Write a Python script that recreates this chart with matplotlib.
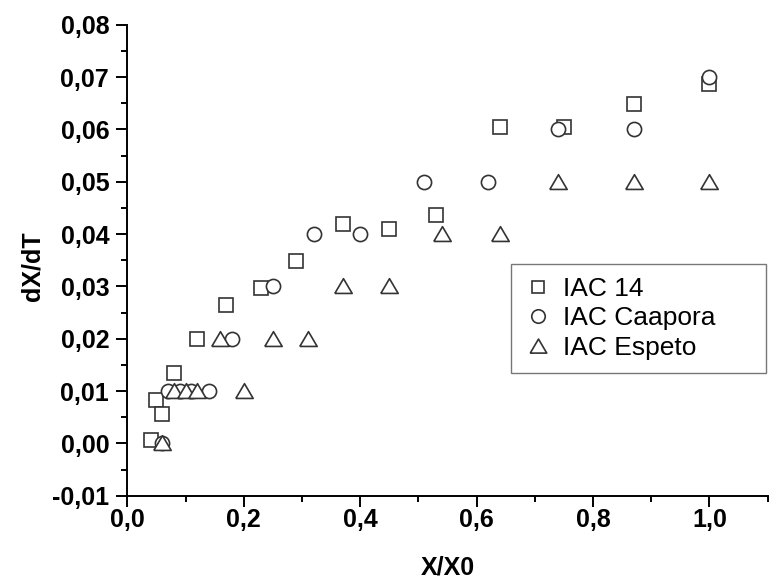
import matplotlib
matplotlib.use("Agg")
import matplotlib.pyplot as plt
from matplotlib.ticker import MultipleLocator, FuncFormatter

plt.rcParams['font.family'] = ['Liberation Sans', 'DejaVu Sans']

# IAC 14
x_14 = [0.04, 0.05, 0.06, 0.08, 0.12, 0.17, 0.23, 0.29, 0.37, 0.45, 0.53, 0.64, 0.75, 0.87, 1.00]
y_14 = [0.0006, 0.0082, 0.0057, 0.0134, 0.0199, 0.0265, 0.0296, 0.0348, 0.0420,
        0.0410, 0.0436, 0.0604, 0.0604, 0.0649, 0.0687]

# IAC Caapora
x_caa = [0.06, 0.07, 0.09, 0.11, 0.14, 0.18, 0.25, 0.32, 0.40, 0.51, 0.62, 0.74, 0.87, 1.00]
y_caa = [0.00, 0.01, 0.01, 0.01, 0.01, 0.02, 0.03, 0.04, 0.04, 0.05, 0.05, 0.06, 0.06, 0.07]

# IAC Espeto
x_esp = [0.06, 0.08, 0.10, 0.12, 0.16, 0.20, 0.25, 0.31, 0.37, 0.45, 0.54, 0.64, 0.74, 0.87, 1.00]
y_esp = [0.00, 0.01, 0.01, 0.01, 0.02, 0.01, 0.02, 0.02, 0.03, 0.03, 0.04, 0.04, 0.05, 0.05, 0.05]

edge = '#333333'
# closed, roughly equilateral triangle
tri = [(-1, -0.8), (1, -0.8), (0, 0.9), (-1, -0.8)]

fig = plt.figure(figsize=(7.81, 5.82), dpi=100)
ax = fig.add_axes([0.163, 0.1483, 0.8199, 0.8093])

ax.plot(x_14, y_14, ls='none', marker='s', ms=9.6, mfc='white', mec=edge, mew=1.2, label='IAC 14')
ax.plot(x_caa, y_caa, ls='none', marker='o', ms=10.2, mfc='white', mec=edge, mew=1.2, label='IAC Caapora')
ax.plot(x_esp, y_esp, ls='none', marker=tri, ms=12.5, mfc='white', mec=edge, mew=1.2, label='IAC Espeto')

ax.set_xlim(0, 1.1)
ax.set_ylim(-0.01, 0.08)

ax.spines['top'].set_visible(False)
ax.spines['right'].set_visible(False)
for s in ('left', 'bottom'):
    ax.spines[s].set_linewidth(1.4)

ax.xaxis.set_major_locator(MultipleLocator(0.2))
ax.xaxis.set_minor_locator(MultipleLocator(0.1))
ax.yaxis.set_major_locator(MultipleLocator(0.01))
ax.yaxis.set_minor_locator(MultipleLocator(0.005))
ax.xaxis.set_major_formatter(FuncFormatter(lambda v, p: f"{v:.1f}".replace('.', ',')))
ax.yaxis.set_major_formatter(FuncFormatter(lambda v, p: f"{v:.2f}".replace('.', ',').replace('-0,00', '0,00')))

ax.tick_params(which='major', direction='out', length=8, width=1.4, labelsize=18)
ax.tick_params(which='minor', direction='out', length=4, width=1.4)
ax.tick_params(axis='x', which='major', pad=1)
ax.tick_params(axis='y', which='major', pad=5)
for lab in ax.get_xticklabels() + ax.get_yticklabels():
    lab.set_fontweight('bold')

ax.set_xlabel('X/X0', fontsize=18, fontweight='bold')
ax.set_ylabel('dX/dT', fontsize=18, fontweight='bold')
ax.xaxis.set_label_coords(0.5, -0.128)
ax.yaxis.set_label_coords(-0.130, 0.4875)

# legend box: left 511 px, top 264 px, 255 px wide
leg = ax.legend(loc='upper left', mode='expand',
                bbox_to_anchor=(511 / 781, 1 - 264 / 582, 255 / 781, 0),
                bbox_transform=fig.transFigure, borderaxespad=0,
                fontsize=19, frameon=True, fancybox=False,
                borderpad=0.5, handlelength=1.06, handletextpad=0.42,
                labelspacing=0.2, markerscale=0.95)
leg.get_frame().set_edgecolor('#555555')
leg.get_frame().set_linewidth(1.0)

fig.savefig('out.png', dpi=100)
